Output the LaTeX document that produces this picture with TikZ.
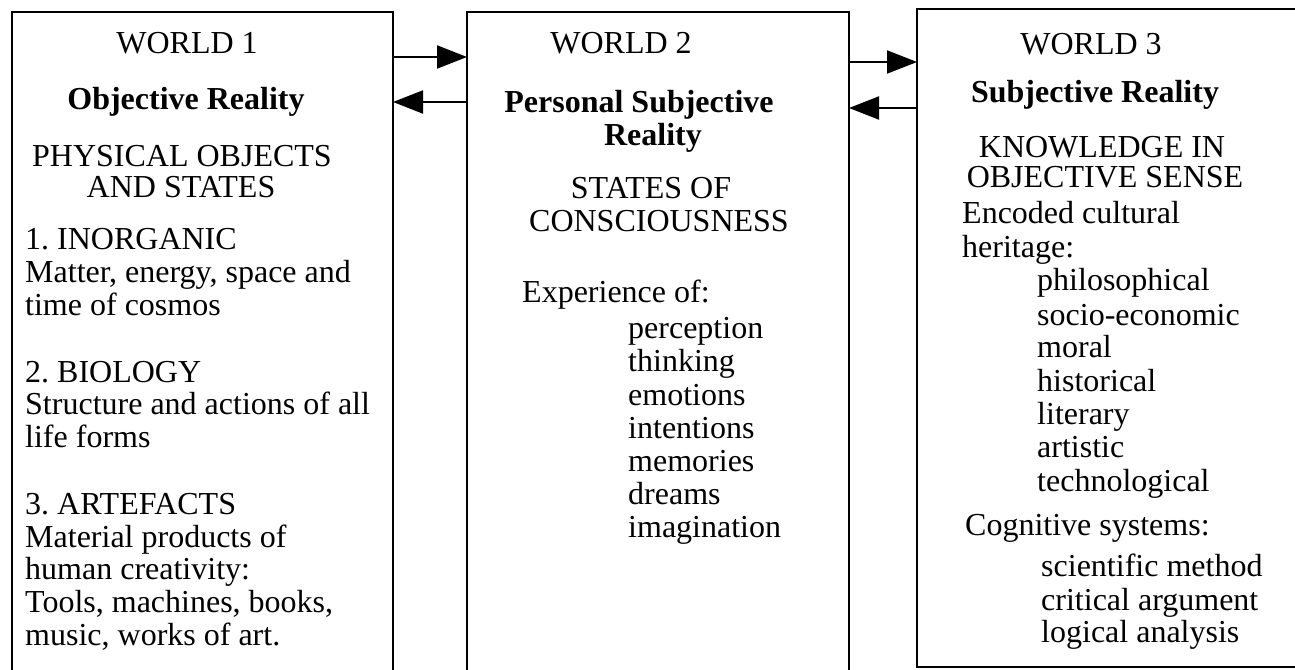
\documentclass[tikz,border=0pt]{standalone}
\usepackage{fontspec}
\setmainfont{Liberation Serif}
\usetikzlibrary{arrows.meta}
\frenchspacing
\tikzset{
  box/.style={draw, line width=2pt, inner sep=0pt, outer sep=0pt, anchor=north west},
  txt/.style={inner sep=0pt, font=\fontsize{32}{33}\selectfont},
  ctr/.style={txt, anchor=base},
  lft/.style={txt, anchor=base west},
  tight/.style={text height=21pt, text depth=0pt},
  bld/.style={font=\fontsize{32}{33}\selectfont\bfseries},
  link/.style={line width=2pt, -{Triangle[length=30pt,width=23pt]}}
}
\begin{document}
\begin{tikzpicture}[x=1pt,y=-1pt]
\useasboundingbox (0,0) rectangle (1295,669);
\clip (0,0) rectangle (1295,669);
\fill[white] (0,0) rectangle (1295,669);
% boxes
\node[box, minimum width=381pt, minimum height=700pt] (w1) at (12,12) {};
\node[box, minimum width=382pt, minimum height=700pt] (w2) at (467,12) {};
\node[box, minimum width=400pt, minimum height=658pt] (w3) at (917,9) {};
% arrow levels
\coordinate (a1) at (0,57);
\coordinate (a2) at (0,102);
\coordinate (a3) at (0,62);
\coordinate (a4) at (0,108);
\draw[link] (w1.east |- a1) -- (w2.west |- a1);
\draw[link] (w2.west |- a2) -- (w1.east |- a2);
\draw[link] (w2.east |- a3) -- (w3.west |- a3);
\draw[link] (w3.west |- a4) -- (w2.east |- a4);
% World 1
\node[ctr] (t1a) at (187,54) {WORLD 1};
\node[ctr, bld] (t1b) at (186,109) {Objective Reality};
\node[ctr, tight] (t1c) at (182,166) {PHYSICAL OBJECTS};
\node[ctr, tight] (t1d) at (181,197) {AND STATES};
\node[lft] (t1e) at (25,249) {1. INORGANIC};
\node[lft] (t1f) at (25,282) {Matter, energy, space and};
\node[lft] (t1g) at (25,315) {time of cosmos};
\node[lft] (t1h) at (25,382) {2. BIOLOGY};
\node[lft] (t1i) at (25,414) {Structure and actions of all};
\node[lft] (t1j) at (25,447) {life forms};
\node[lft] (t1k) at (25,514) {3. ARTEFACTS};
\node[lft] (t1l) at (25,547) {Material products of};
\node[lft] (t1m) at (25,579) {human creativity:};
\node[lft] (t1n) at (25,612) {Tools, machines, books,};
\node[lft] (t1o) at (25,645) {music, works of art.};
% World 2
\node[ctr] (t2a) at (621,54) {WORLD 2};
\node[ctr, bld] (t2b) at (639,112) {Personal Subjective};
\node[ctr, bld] (t2c) at (653,145) {Reality};
\node[ctr] (t2d) at (651,198) {STATES OF};
\node[ctr] (t2e) at (659,231) {CONSCIOUSNESS};
\node[lft] (t2f) at (522,302) {Experience of:};
\node[lft] (t2g) at (628,338) {perception};
\node[lft] (t2h) at (628,371) {thinking};
\node[lft] (t2i) at (628,405) {emotions};
\node[lft] (t2j) at (628,438) {intentions};
\node[lft] (t2k) at (628,471) {memories};
\node[lft] (t2l) at (628,504) {dreams};
\node[lft] (t2m) at (628,537) {imagination};
% World 3
\node[ctr] (t3a) at (1091,55) {WORLD 3};
\node[ctr, bld] (t3b) at (1095,102) {Subjective Reality};
\node[ctr, tight] (t3c) at (1102,157) {KNOWLEDGE IN};
\node[ctr, tight] (t3d) at (1105,187) {OBJECTIVE SENSE};
\node[lft] (t3e) at (962,223) {Encoded cultural};
\node[lft] (t3f) at (962,257) {heritage:};
\node[lft] (t3g) at (1037,290) {philosophical};
\node[lft] (t3h) at (1037,325) {socio-economic};
\node[lft] (t3i) at (1037,357) {moral};
\node[lft] (t3j) at (1037,391) {historical};
\node[lft] (t3k) at (1037,424) {literary};
\node[lft] (t3l) at (1037,457) {artistic};
\node[lft] (t3m) at (1037,491) {technological};
\node[lft] (t3n) at (965,535) {Cognitive systems:};
\node[lft] (t3o) at (1041,576) {scientific method};
\node[lft] (t3p) at (1041,610) {critical argument};
\node[lft] (t3q) at (1041,642) {logical analysis};
\end{tikzpicture}
\end{document}
